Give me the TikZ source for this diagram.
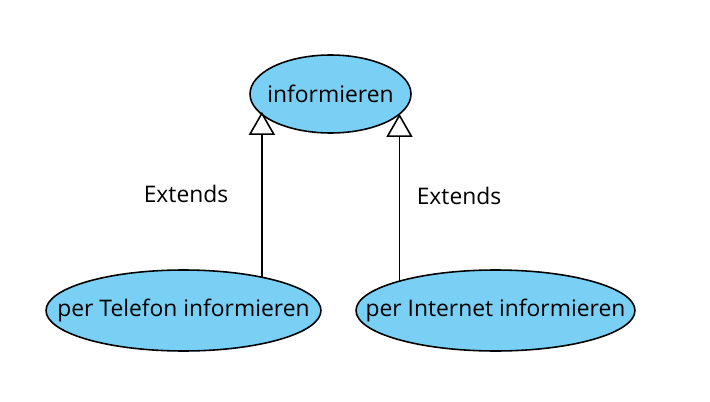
\documentclass[tikz,border=0pt]{standalone}
\usepackage{fontspec}
\setmainfont{Open Sans}
\usetikzlibrary{shapes.geometric,arrows.meta}
\definecolor{ucblue}{RGB}{122,207,245}

\begin{document}
\begin{tikzpicture}[x=0.02cm,y=-0.02cm,
    usecase/.style={ellipse,draw,fill=ucblue,line width=0.9pt,inner sep=0pt,outer sep=0pt,
      font=\fontsize{13}{15}\selectfont},
    extends/.style={line width=0.9pt,-{Triangle[open,width=0.52cm,length=0.46cm,line width=0.9pt]}}]
    \useasboundingbox (0,0) rectangle (710,402);

    \node [usecase,minimum width=3.22cm,minimum height=1.56cm] (info) at (330.5,94) {\makebox[0pt]{informieren}};
    \node [usecase,minimum width=5.5cm,minimum height=1.62cm] (tel) at (183.5,310.5) {\makebox[0pt]{per Telefon informieren}};
    \node [usecase,minimum width=5.58cm,minimum height=1.62cm] (net) at (495.5,310.5) {\makebox[0pt]{per Internet informieren}};

    \draw [extends] (tel.23.7) -- (tel.23.7 |- info.194.9);
    \draw [extends] (net.163.4) -- (net.163.4 |- info.344.5);

    \node [font=\fontsize{13}{15}\selectfont] (ext1) at (186,194) {Extends};
    \node [font=\fontsize{13}{15}\selectfont] (ext2) at (459,196) {Extends};
  \end{tikzpicture}
\end{document}
